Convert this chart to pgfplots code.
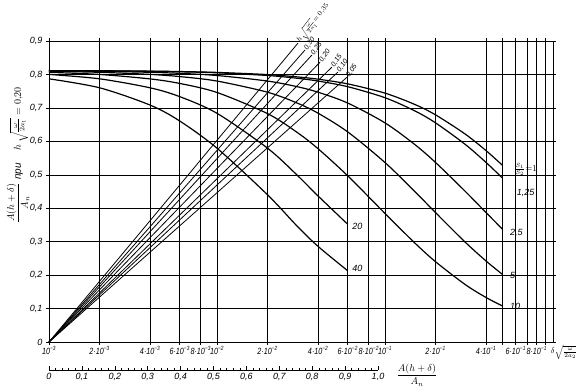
\documentclass[border=0pt]{standalone}
\usepackage{amsmath}
\usepackage{graphicx}
\usepackage{fontspec}
\setmainfont{Liberation Sans}
\usepackage{pgfplots}
\pgfplotsset{compat=1.18}
\newcommand{\tl}[2]{\scalebox{0.8}[1]{\itshape #1\textsuperscript{−#2}}}
\begin{document}
\begin{tikzpicture}[x=1pt,y=1pt]
\begin{axis}[
  at={(0,0)}, anchor=south west, scale only axis, width=504pt, height=301pt,
  xmode=log, xmin=1e-3, xmax=1, ymin=0, ymax=0.9,
  xtick={0.001,0.002,0.004,0.006,0.008,0.01,0.02,0.04,0.06,0.08,0.1,0.2,0.4,0.6,0.8},
  xticklabels={\tl{10}{3},\tl{2·10}{3},\tl{4·10}{3},\tl{6·10}{3},\tl{8·10}{3},\tl{10}{2},\tl{2·10}{2},\tl{4·10}{2},\tl{6·10}{2},\tl{8·10}{2},\tl{10}{1},\tl{2·10}{1},\tl{4·10}{1},\tl{6·10}{1},\tl{8·10}{1}},
  extra x ticks={0.5,0.7,0.9},
  extra x tick labels={},
  xminorticks=false,
  ytick={0,0.1,0.2,0.3,0.4,0.5,0.6,0.7,0.8,0.9},
  yticklabels={0,{0,1},{0,2},{0,3},{0,4},{0,5},{0,6},{0,7},{0,8},{0,9}},
  grid=major,
  grid style={black, line width=0.5pt},
  axis line style={line width=0.8pt},
  tick align=outside, major tick length=3pt,
  tick style={black, line width=0.5pt},
  xticklabel style={font=\small, inner sep=1pt},
  yticklabel style={font=\small\itshape},
  clip=false,
]
% S1/S2 = 1
\addplot[black, line width=1.2pt, smooth] coordinates {
(0.001,0.8115)(0.002,0.811)(0.004,0.8099)(0.006,0.8087)(0.01,0.8061)(0.02,0.7996)(0.03,0.7927)(0.04,0.7858)(0.06,0.7718)(0.1,0.7441)(0.15,0.7106)(0.2,0.6791)(0.3,0.6218)(0.4,0.5720)(0.5,0.5284)};
% 1.25
\addplot[black, line width=1.2pt, smooth] coordinates {
(0.001,0.8114)(0.002,0.8108)(0.004,0.8094)(0.006,0.8079)(0.01,0.8049)(0.02,0.7969)(0.03,0.7886)(0.04,0.7802)(0.06,0.7634)(0.1,0.7304)(0.15,0.6914)(0.2,0.6552)(0.3,0.5910)(0.4,0.5366)(0.5,0.4903)};
% 2.5
\addplot[black, line width=1.2pt, smooth] coordinates {
(0.001,0.8108)(0.002,0.8094)(0.004,0.8064)(0.006,0.8033)(0.01,0.7968)(0.02,0.7802)(0.03,0.7634)(0.04,0.7468)(0.06,0.7145)(0.1,0.6552)(0.15,0.5910)(0.2,0.5367)(0.3,0.4507)(0.4,0.3867)(0.5,0.3375)};
% 5
\addplot[black, line width=1.2pt, smooth] coordinates {
(0.001,0.8094)(0.002,0.8064)(0.004,0.8001)(0.006,0.7936)(0.01,0.7802)(0.02,0.7468)(0.03,0.7145)(0.04,0.6840)(0.06,0.6282)(0.1,0.5366)(0.15,0.4507)(0.2,0.3868)(0.3,0.2987)(0.4,0.2419)(0.5,0.2023)};
% 10
\addplot[black, line width=1.2pt, smooth] coordinates {
(0.001,0.8063)(0.002,0.8000)(0.004,0.7866)(0.006,0.7731)(0.01,0.7461)(0.02,0.6828)(0.03,0.6267)(0.04,0.5777)(0.06,0.4969)(0.1,0.3845)(0.15,0.2967)(0.2,0.2400)(0.3,0.1719)(0.4,0.1329)(0.5,0.1078)};
% 20
\addplot[black, line width=1.2pt, smooth] coordinates {
(0.001,0.8001)(0.002,0.7869)(0.004,0.7600)(0.006,0.7336)(0.01,0.6838)(0.02,0.5795)(0.03,0.4989)(0.04,0.4364)(0.06,0.3520)};
% 40
\addplot[black, line width=1.2pt, smooth] coordinates {
(0.001,0.7869)(0.002,0.7601)(0.004,0.7083)(0.006,0.6608)(0.01,0.5795)(0.02,0.4400)(0.03,0.3464)(0.04,0.2857)(0.06,0.2130)};
\node[font=\small, anchor=west, inner sep=1pt] at (axis cs:0.58,0.515) {$\frac{S_1}{S_2}{=}1$};
\node[font=\small\itshape, anchor=west] at (axis cs:0.58,0.445) {1,25};
\node[font=\small\itshape, anchor=west] at (axis cs:0.53,0.326) {2,5};
\node[font=\small\itshape, anchor=west] at (axis cs:0.53,0.20) {5};
\node[font=\small\itshape, anchor=west] at (axis cs:0.53,0.105) {10};
\node[font=\small\itshape, anchor=west] at (axis cs:0.061,0.345) {20};
\node[font=\small\itshape, anchor=west] at (axis cs:0.061,0.22) {40};
\end{axis}
% overlay axis for the conversion lines (linear in A(h+delta)/A_n)
\begin{axis}[
  at={(0,0)}, anchor=south west, scale only axis, width=504pt, height=301pt,
  xmin=0, xmax=1.5319, ymin=0, ymax=0.9, hide axis, clip=false,
]
\addplot[black, line width=0.8pt] coordinates {(0,0)(0.757,0.894)};
\addplot[black, line width=0.8pt] coordinates {(0,0)(0.778,0.873)};
\addplot[black, line width=0.8pt] coordinates {(0,0)(0.799,0.858)};
\addplot[black, line width=0.8pt] coordinates {(0,0)(0.824,0.837)};
\addplot[black, line width=0.8pt] coordinates {(0,0)(0.860,0.822)};
\addplot[black, line width=0.8pt] coordinates {(0,0)(0.878,0.807)};
\addplot[black, line width=0.8pt] coordinates {(0,0)(0.906,0.792)};
\node[font=\scriptsize, rotate=52, anchor=west, inner sep=1pt] at (axis cs:0.757,0.894) {$h\sqrt{\frac{\omega}{2a_1}}{=}\,0{,}35$};
\node[font=\scriptsize\itshape, rotate=55, anchor=west, inner sep=1pt] at (axis cs:0.778,0.873) {0,30};
\node[font=\scriptsize\itshape, rotate=55, anchor=west, inner sep=1pt] at (axis cs:0.799,0.858) {0,25};
\node[font=\scriptsize\itshape, rotate=55, anchor=west, inner sep=1pt] at (axis cs:0.824,0.837) {0,20};
\node[font=\scriptsize\itshape, rotate=55, anchor=west, inner sep=1pt] at (axis cs:0.860,0.822) {0,15};
\node[font=\scriptsize\itshape, rotate=55, anchor=west, inner sep=1pt] at (axis cs:0.878,0.807) {0,10};
\node[font=\scriptsize\itshape, rotate=55, anchor=west, inner sep=1pt] at (axis cs:0.906,0.792) {0,05};
\end{axis}
% secondary linear scale
\begin{axis}[
  at={(0,-28pt)}, anchor=south west, scale only axis, width=329pt, height=1pt,
  xmin=0, xmax=1, ymin=0, ymax=1,
  axis x line=bottom, axis y line=none,
  x axis line style={-, line width=0.6pt},
  xtick={0,0.1,0.2,0.3,0.4,0.5,0.6,0.7,0.8,0.9,1},
  xticklabels={0,{0,1},{0,2},{0,3},{0,4},{0,5},{0,6},{0,7},{0,8},{0,9},{1,0}},
  minor x tick num=4,
  tick align=inside, major tick length=4pt, minor tick length=2pt,
  tick style={black, line width=0.5pt},
  xticklabel style={font=\small\itshape},
]
\addplot[draw=none] coordinates {(0,0)(1,0)};
\end{axis}
\node[font=\normalsize] at (368,-33) {$\dfrac{A(h+\delta)}{A_n}$};
\node[font=\footnotesize, anchor=north, inner sep=1pt] at (515,-2) {$\delta\sqrt{\frac{\omega}{2a_2}}$};
\node[rotate=90, font=\normalsize] at (-31,187) {$\dfrac{A(h+\delta)}{A_n}$ \itshape при \quad $h\,\sqrt{\frac{\omega}{2a_1}}=0{,}20$};
\pgfresetboundingbox
\path (-49,-49) rectangle (527,342);
\end{tikzpicture}
\end{document}
